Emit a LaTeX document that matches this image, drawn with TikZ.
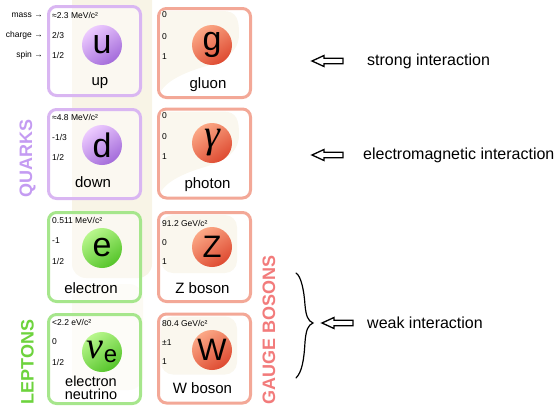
\documentclass[tikz,border=0pt]{standalone}
\usepackage{fontspec}
\setmainfont{Liberation Sans}
\newfontfamily\greekserif{Liberation Serif}

\definecolor{quarkedge}{HTML}{D9B6F2}
\definecolor{quarklight}{HTML}{EDCBFF}
\definecolor{quarkdark}{HTML}{A36BDA}
\definecolor{leptonedge}{HTML}{A6E68C}
\definecolor{leptonlight}{HTML}{B8F78C}
\definecolor{leptondark}{HTML}{55C42A}
\definecolor{bosonedge}{HTML}{F3A897}
\definecolor{bosonlight}{HTML}{FBA886}
\definecolor{bosondark}{HTML}{DE4A31}
\definecolor{quarktitle}{HTML}{C49BF2}
\definecolor{leptontitle}{HTML}{6DD33D}
\definecolor{bosontitle}{HTML}{F27B7B}
\definecolor{creampanel}{HTML}{F8F4E6}
\definecolor{creamfaint}{HTML}{FCFAF3}
\definecolor{creamcard}{HTML}{FAF7EE}

\tikzset{
  card/.style={draw=#1, line width=3pt, rounded corners=8pt, fill=white,
    fill opacity=0.45, minimum width=92pt, minimum height=89pt, inner sep=0pt},
  ball/.style 2 args={circle, minimum size=40pt, inner sep=0pt,
    top color=#1, bottom color=#2, shading angle=35,
    font=\fontsize{34}{34}\selectfont},
  val/.style={anchor=west, inner sep=0pt, font=\fontsize{8.5}{10}\selectfont},
  rowhead/.style={anchor=east, inner sep=0pt, font=\fontsize{8.5}{10}\selectfont},
  pname/.style={inner sep=0pt, align=center, font=\fontsize{15}{13}\selectfont},
  grouptitle/.style={rotate=90, inner sep=0pt, font=\bfseries\fontsize{18}{18}\selectfont},
  inter/.style={anchor=west, inner sep=0pt, font=\fontsize{16}{16}\selectfont},
  swoosh/.style={fill=creamcard},
  pics/hollowarrow/.style={code={
    \draw[line width=1.3pt, line join=miter]
      (0,0) -- (12,-5.5) -- (12,-2.8) -- (31,-2.8) -- (31,2.8)
      -- (12,2.8) -- (12,5.5) -- cycle;}}
}

\begin{document}
\begin{tikzpicture}[x=1pt, y=-1pt]
\useasboundingbox (0,0) rectangle (557,407);

% generation panels behind the fermion column
\fill[creampanel, rounded corners=14pt] (72,-20) rectangle (152,278);
\fill[creamfaint, rounded corners=14pt] (72,284) rectangle (143,390);

% particle cards
\node[card=quarkedge]  (cu) at (94.5,51)    {};
\node[card=quarkedge]  (cd) at (94.5,154)   {};
\node[card=leptonedge] (ce) at (94.5,257)   {};
\node[card=leptonedge] (cn) at (94.5,359)   {};
\node[card=bosonedge]  (cg) at (204.5,53)   {};
\node[card=bosonedge]  (cp) at (204.5,153.5){};
\node[card=bosonedge]  (cz) at (204.5,257)  {};
\node[card=bosonedge]  (cw) at (204.5,358.5){};

% faint background shapes inside the boson cards
\foreach \c in {cg,cp}{
  \begin{scope}[shift={(\c.north west)}]
    \fill[swoosh] (4,4) -- (66,4) .. controls (80,4) and (82,13) .. (82,27)
      .. controls (82,46) and (66,54) .. (46,60)
      .. controls (26,66) and (10,74) .. (4,84) -- cycle;
  \end{scope}}
\foreach \c in {cz,cw}{
  \begin{scope}[shift={(\c.north west)}]
    \fill[swoosh, rounded corners=12pt] (4,4) rectangle (80,62);
  \end{scope}}

% particle symbols
\node[ball={quarklight}{quarkdark}]   (u)  at (102,45)  {u};
\node[ball={quarklight}{quarkdark}]   (d)  at (102,145) {d};
\node[ball={leptonlight}{leptondark}] (e)  at (102,248) {e};
\node[ball={leptonlight}{leptondark}] (nu) at (102,352)
  {{\greekserif\itshape\fontsize{38}{38}\selectfont ν}\raisebox{-4pt}{\fontsize{24}{24}\selectfont e}};
\node[ball={bosonlight}{bosondark}]   (g)  at (212,45)  {g};
\node[ball={bosonlight}{bosondark}]   (ga) at (212,143)
  {\greekserif\itshape\fontsize{40}{40}\selectfont γ};
\node[ball={bosonlight}{bosondark}, font=\fontsize{31}{31}\selectfont] (Z) at (212,247) {Z};
\node[ball={bosonlight}{bosondark}, font=\fontsize{31}{31}\selectfont] (W) at (212,350) {W};

% particle names
\node[pname] (nup)  at (100,83)    {up};
\node[pname] (ndn)  at (93,182)    {down};
\node[pname] (nel)  at (91,288)    {electron};
\node[pname, font=\fontsize{14.5}{13}\selectfont] (nnu) at (91,388) {electron\\neutrino};
\node[pname] (ngl)  at (208,85)    {gluon};
\node[pname] (nph)  at (207.5,185) {photon};
\node[pname] (nzb)  at (202.5,288) {Z boson};
\node[pname] (nwb)  at (202.5,388) {W boson};

% row headers
\node[rowhead] (hmass)   at (43,15) {mass →};
\node[rowhead] (hcharge) at (43,35) {charge →};
\node[rowhead] (hspin)   at (43,55) {spin →};

% mass, charge, spin values
\node[val] (um) at (52,15)  {≈2.3 MeV/c²};
\node[val] (uc) at (52,35)  {2/3};
\node[val] (us) at (52,55)  {1/2};
\node[val] (dm) at (52,117) {≈4.8 MeV/c²};
\node[val] (dc) at (52,137) {-1/3};
\node[val] (ds) at (52,157) {1/2};
\node[val] (em) at (52,220) {0.511 MeV/c²};
\node[val] (ec) at (52,241) {-1};
\node[val] (es) at (52,261) {1/2};
\node[val] (nm) at (52,322) {<2.2 eV/c²};
\node[val] (nc) at (52,342) {0};
\node[val] (ns) at (52,362) {1/2};
\node[val] (gm) at (162,15)  {0};
\node[val] (gc) at (162,37)  {0};
\node[val] (gs) at (162,57)  {1};
\node[val] (pm) at (162,116) {0};
\node[val] (pc) at (162,137) {0};
\node[val] (ps) at (162,157) {1};
\node[val] (zm) at (162,223) {91.2 GeV/c²};
\node[val] (zc) at (162,243) {0};
\node[val] (zs) at (162,262) {1};
\node[val] (wm) at (162,323) {80.4 GeV/c²};
\node[val] (wc) at (162,343) {±1};
\node[val] (ws) at (162,362) {1};

% group titles
\node[grouptitle, text=quarktitle]  (tq) at (27.5,158.5) {QUARKS};
\node[grouptitle, text=leptontitle] (tl) at (27.5,362)   {LEPTONS};
\node[grouptitle, text=bosontitle]  (tb) at (269,330)    {GAUGE BOSONS};

% interactions
\node[inter] (strong) at (367,61)  {strong interaction};
\node[inter] (emag)   at (363,155) {electromagnetic interaction};
\node[inter] (weak)   at (367,323) {weak interaction};
\pic at ([xshift=-55pt]strong.west) {hollowarrow};
\pic at ([xshift=-51pt]emag.west)   {hollowarrow};
\pic at ([xshift=-45pt]weak.west)   {hollowarrow};

% brace grouping the Z and W bosons
\coordinate (bracetop) at (296,273);
\coordinate (bracetip) at (313,323);
\coordinate (bracebot) at (296,378);
\draw[line width=1.2pt, line cap=round]
  (bracetop) .. controls (301,276) and (304,290) .. (305,305)
  .. controls (306,316) and (308,321) .. (bracetip)
  .. controls (308,325) and (306,330) .. (305,342)
  .. controls (304,360) and (302,372) .. (bracebot);
\end{tikzpicture}
\end{document}
